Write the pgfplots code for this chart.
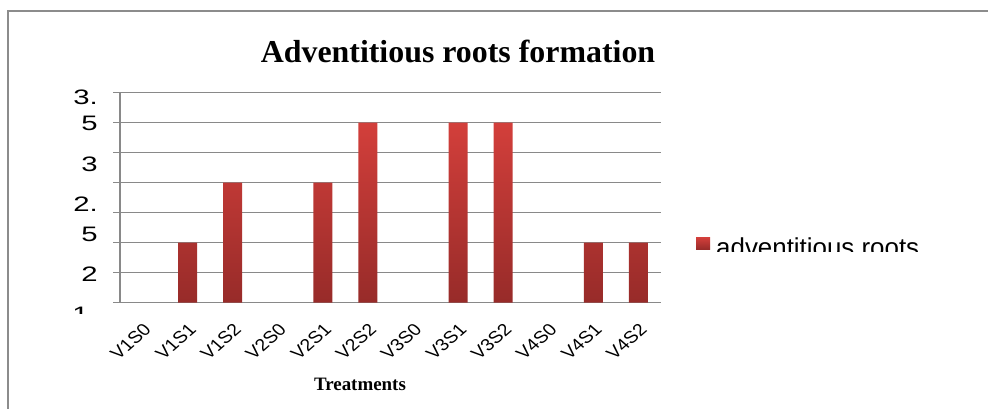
\documentclass[border=0pt]{standalone}
\usepackage{pgfplots}
\pgfplotsset{compat=1.18}
\usepackage{fontspec}
\setmainfont{Liberation Sans}
\newfontfamily\timesfont{Liberation Serif}
\definecolor{gridgray}{HTML}{898989}
\definecolor{framegray}{HTML}{8C8C8C}
\definecolor{bartop}{HTML}{D33F3B}
\definecolor{barbot}{HTML}{972B29}

\begin{document}
\begin{tikzpicture}[x=1bp,y=1bp]
\useasboundingbox (-120,-105.5) rectangle (868,302.5);
% chart frame (only the left and top edges fall inside the page)
\draw[framegray, line width=2bp] (-111.5,-110) -- (-111.5,291.5) -- (875,291.5);
\begin{axis}[
  at={(0,0)}, anchor=south west,
  scale only axis, width=541bp, height=210bp,
  xmin=-0.5, xmax=11.5, ymin=0, ymax=3.5,
  ybar, bar width=19bp,
  axis x line*=bottom, axis y line*=left,
  axis line style={gridgray, line width=1.3bp},
  tick align=outside,
  % grid lines every 0.5, labels set separately
  ytick={0,0.5,...,3.5}, yticklabels={},
  ymajorgrids, major grid style={gridgray, line width=1.3bp},
  ytick style={gridgray, line width=1.3bp}, major tick length=7bp,
  extra y ticks={3.425,2.99,2.31,1.64,1.14,0.475},
  extra y tick labels={3.,5,3,2.,5,2},
  extra y tick style={grid=none, major tick length=0pt,
    yticklabel style={anchor=east, inner sep=0pt, xshift=-22bp,
      font=\fontsize{21}{21}\selectfont, xscale=1.4}},
  xtick={0,...,11},
  xticklabels={V1S0,V1S1,V1S2,V2S0,V2S1,V2S2,V3S0,V3S1,V3S2,V4S0,V4S1,V4S2},
  xtick style={draw=none},
  xticklabel style={yshift=-13bp, xscale=1.15, rotate=45, anchor=north east,
    inner sep=0pt, font=\fontsize{17}{17}\selectfont},
  title={Adventitious roots formation},
  title style={font=\timesfont\bfseries\fontsize{32}{32}\selectfont,
    at={(axis description cs:0.6248,1.1166)}, anchor=base, inner sep=0pt},
  xlabel={Treatments},
  xlabel style={font=\timesfont\bfseries\fontsize{19}{19}\selectfont,
    at={(axis description cs:0.4436,-0.4167)}, anchor=base, inner sep=0pt},
  legend style={at={(axis description cs:1.0647,0.262)}, anchor=west,
    draw=none, fill=none, inner sep=0pt,
    font=\fontsize{26}{26}\selectfont,
    nodes={inner sep=0pt}, column sep=6bp},
  legend cell align=left,
  legend image code/.code={
    \fill[top color=bartop, bottom color=barbot] (0bp,-2bp) rectangle (14bp,10bp);},
  unbounded coords=discard,
  y filter/.expression={y==0 ? nan : y},
]
\addplot[draw=none, top color=bartop, bottom color=barbot]
  coordinates {(0,0) (1,1) (2,2) (3,0) (4,2) (5,3) (6,0) (7,3) (8,3) (9,0) (10,1) (11,1)};
\addlegendentry{adventitious roots}
\end{axis}
% lowest axis label, cut off by the label area
\begin{scope}
  \clip (-60,-10.8) rectangle (-20,0);
  \node[anchor=base east, inner sep=0pt, font=\fontsize{21}{21}\selectfont, xscale=1.4]
    at (-31,-19.2) {1};
\end{scope}
% legend text is cut at the bottom of its box
\fill[white] (590,36) rectangle (812,50.2);
\end{tikzpicture}
\end{document}
